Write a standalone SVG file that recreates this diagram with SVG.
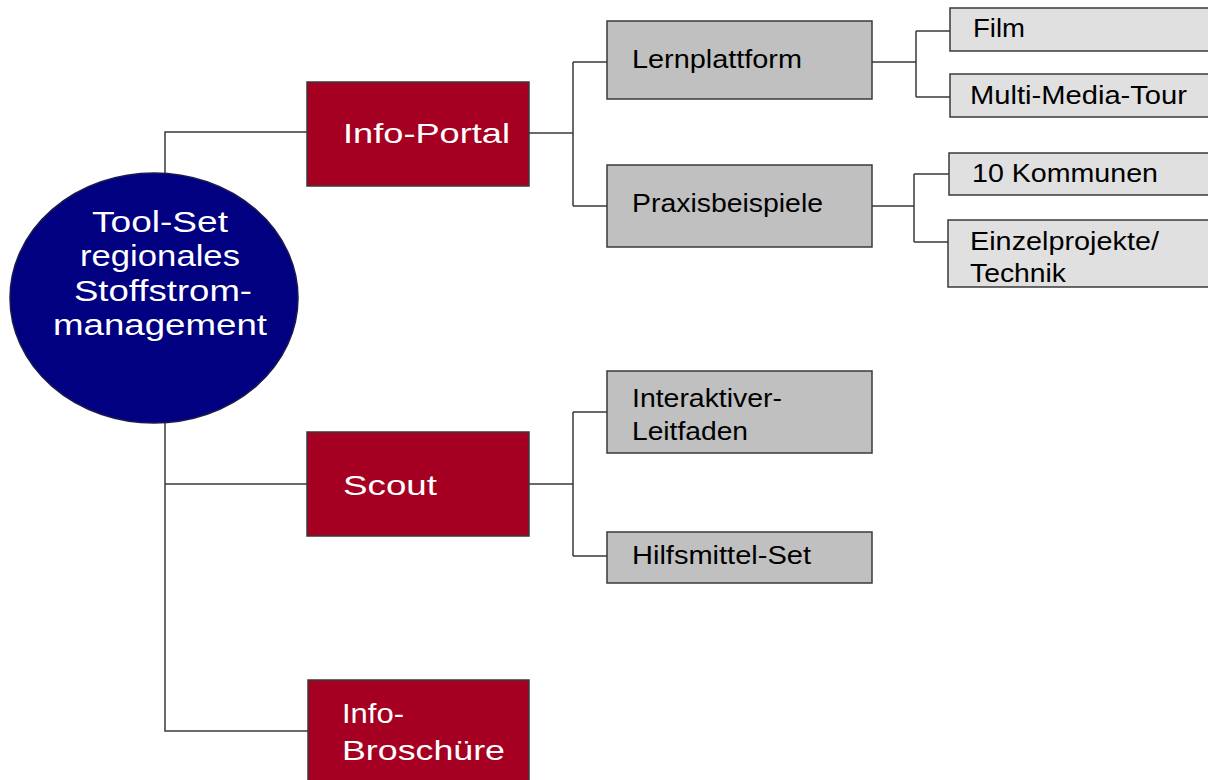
<svg xmlns="http://www.w3.org/2000/svg" width="1208" height="780" viewBox="0 0 1208 780">
<style>
.red{fill:#a50021;stroke:#3a3a3a;stroke-width:1.5}
.gray{fill:#c0c0c0;stroke:#3a3a3a;stroke-width:1.5}
.light{fill:#e0e0e0;stroke:#3a3a3a;stroke-width:1.5}
.w{fill:#ffffff;font-family:"Liberation Sans",Arial,sans-serif}
.b{fill:#000000;font-family:"Liberation Sans",Arial,sans-serif}
.big{font-size:30px}
.mid{font-size:28px}
.sm{font-size:25px}
.conn{fill:none;stroke:#3a3a3a;stroke-width:1.5}
</style>
<rect width="1208" height="780" fill="#ffffff"/>
<g id="connectors">
<path class="conn" d="M165 173 V132 H307"/>
<path class="conn" d="M165 423 V731 H308"/>
<path class="conn" d="M165 484 H307"/>
<path class="conn" d="M529 133 H573 M573 62 V206 M573 62 H607 M573 206 H607"/>
<path class="conn" d="M529 484 H573 M573 412 V556 M573 412 H607 M573 556 H607"/>
<path class="conn" d="M872 62 H916 M916 31 V97 M916 31 H950 M916 97 H950"/>
<path class="conn" d="M872 206 H914 M914 174 V242 M914 174 H949 M914 242 H948"/>
</g>
<g id="root">
<ellipse cx="154" cy="298" rx="144" ry="125" fill="#000080" stroke="#1a1a50" stroke-width="1.5"/>
<text class="w big" x="160" y="232" text-anchor="middle" textLength="136" lengthAdjust="spacingAndGlyphs">Tool-Set</text>
<text class="w big" x="160" y="266" text-anchor="middle" textLength="160" lengthAdjust="spacingAndGlyphs">regionales</text>
<text class="w big" x="163" y="301" text-anchor="middle" textLength="178" lengthAdjust="spacingAndGlyphs">Stoffstrom-</text>
<text class="w big" x="160" y="335" text-anchor="middle" textLength="214" lengthAdjust="spacingAndGlyphs">management</text>
</g>
<g id="info-portal">
<rect class="red" x="307" y="82" width="222" height="104"/>
<text class="w mid" x="343" y="143" textLength="167" lengthAdjust="spacingAndGlyphs">Info-Portal</text>
</g>
<g id="scout">
<rect class="red" x="307" y="432" width="222" height="104"/>
<text class="w mid" x="343" y="495" textLength="94" lengthAdjust="spacingAndGlyphs">Scout</text>
</g>
<g id="info-broschuere">
<rect class="red" x="308" y="680" width="221" height="110"/>
<text class="w mid" x="342" y="723" textLength="62" lengthAdjust="spacingAndGlyphs">Info-</text>
<text class="w mid" x="342" y="760" textLength="163" lengthAdjust="spacingAndGlyphs">Broschüre</text>
</g>
<g id="lernplattform">
<rect class="gray" x="607" y="21" width="265" height="78"/>
<text class="b sm" x="632" y="68" textLength="170" lengthAdjust="spacingAndGlyphs">Lernplattform</text>
</g>
<g id="praxisbeispiele">
<rect class="gray" x="607" y="165" width="265" height="82"/>
<text class="b sm" x="632" y="212" textLength="191" lengthAdjust="spacingAndGlyphs">Praxisbeispiele</text>
</g>
<g id="interaktiver-leitfaden">
<rect class="gray" x="607" y="371" width="265" height="82"/>
<text class="b sm" x="632" y="407" textLength="150" lengthAdjust="spacingAndGlyphs">Interaktiver-</text>
<text class="b sm" x="632" y="440" textLength="116" lengthAdjust="spacingAndGlyphs">Leitfaden</text>
</g>
<g id="hilfsmittel-set">
<rect class="gray" x="607" y="532" width="265" height="51"/>
<text class="b sm" x="632" y="564" textLength="179" lengthAdjust="spacingAndGlyphs">Hilfsmittel-Set</text>
</g>
<g id="film">
<rect class="light" x="950" y="8" width="270" height="43"/>
<text class="b sm" x="973" y="37" textLength="52" lengthAdjust="spacingAndGlyphs">Film</text>
</g>
<g id="multi-media-tour">
<rect class="light" x="950" y="74" width="270" height="43"/>
<text class="b sm" x="970" y="104" textLength="217" lengthAdjust="spacingAndGlyphs">Multi-Media-Tour</text>
</g>
<g id="kommunen">
<rect class="light" x="949" y="153" width="270" height="42"/>
<text class="b sm" x="972" y="182" textLength="186" lengthAdjust="spacingAndGlyphs">10 Kommunen</text>
</g>
<g id="einzelprojekte">
<rect class="light" x="948" y="220" width="270" height="67"/>
<text class="b sm" x="970" y="250" textLength="189" lengthAdjust="spacingAndGlyphs">Einzelprojekte/</text>
<text class="b sm" x="970" y="282" textLength="96" lengthAdjust="spacingAndGlyphs">Technik</text>
</g>
</svg>
